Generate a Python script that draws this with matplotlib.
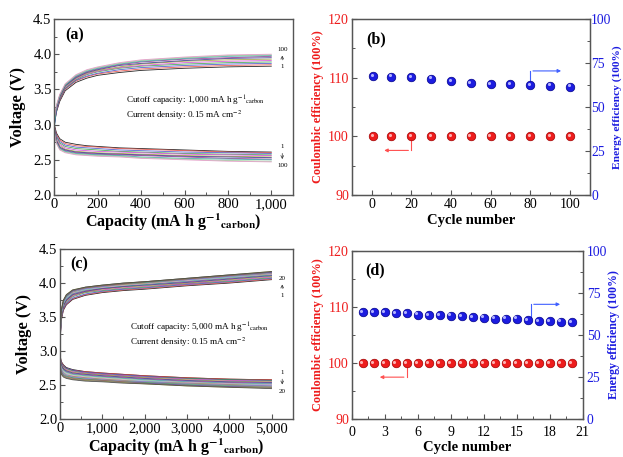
import numpy as np
import matplotlib
matplotlib.use("Agg")
import matplotlib.pyplot as plt
from matplotlib.ticker import MultipleLocator, FuncFormatter
from matplotlib import transforms

plt.rcParams['font.family'] = ['Liberation Serif', 'DejaVu Serif']
plt.rcParams['mathtext.fontset'] = 'stix'

# ---- (a) 1,000 mAh/g cutoff, cycles 1,10,...,100
cap_a = [0, 10, 25, 50, 100, 150, 200, 300, 400, 600, 800, 1000]
charge_a = [
    [3.00, 3.18, 3.33, 3.48, 3.60, 3.66, 3.70, 3.74, 3.77, 3.80, 3.82, 3.83],
    [3.02, 3.20, 3.35, 3.50, 3.62, 3.68, 3.72, 3.76, 3.79, 3.82, 3.84, 3.85],
    [2.98, 3.20, 3.36, 3.51, 3.63, 3.69, 3.73, 3.78, 3.81, 3.84, 3.86, 3.87],
    [3.05, 3.22, 3.37, 3.52, 3.64, 3.71, 3.75, 3.80, 3.83, 3.86, 3.88, 3.89],
    [3.00, 3.22, 3.38, 3.53, 3.65, 3.72, 3.76, 3.81, 3.84, 3.88, 3.90, 3.91],
    [3.10, 3.24, 3.39, 3.54, 3.66, 3.73, 3.77, 3.82, 3.86, 3.90, 3.92, 3.93],
    [3.02, 3.24, 3.40, 3.55, 3.67, 3.74, 3.78, 3.84, 3.87, 3.91, 3.94, 3.95],
    [3.08, 3.26, 3.41, 3.56, 3.68, 3.75, 3.79, 3.85, 3.89, 3.93, 3.95, 3.97],
    [2.95, 3.25, 3.41, 3.56, 3.69, 3.76, 3.80, 3.86, 3.90, 3.94, 3.97, 3.98],
    [3.05, 3.27, 3.42, 3.57, 3.70, 3.77, 3.81, 3.87, 3.91, 3.95, 3.98, 3.99],
    [3.10, 3.28, 3.43, 3.58, 3.71, 3.78, 3.82, 3.88, 3.92, 3.96, 3.99, 4.00],
]
discharge_a = [
    [3.00, 2.88, 2.80, 2.75, 2.72, 2.70, 2.69, 2.67, 2.66, 2.64, 2.62, 2.61],
    [2.98, 2.86, 2.78, 2.73, 2.70, 2.69, 2.68, 2.66, 2.65, 2.63, 2.61, 2.60],
    [2.97, 2.84, 2.76, 2.71, 2.68, 2.67, 2.66, 2.64, 2.63, 2.61, 2.60, 2.59],
    [2.96, 2.82, 2.74, 2.69, 2.66, 2.65, 2.64, 2.62, 2.61, 2.59, 2.58, 2.57],
    [2.95, 2.80, 2.72, 2.67, 2.64, 2.63, 2.62, 2.61, 2.60, 2.58, 2.57, 2.56],
    [2.94, 2.78, 2.70, 2.65, 2.62, 2.61, 2.60, 2.59, 2.58, 2.56, 2.55, 2.54],
    [2.93, 2.77, 2.68, 2.64, 2.61, 2.60, 2.59, 2.58, 2.57, 2.55, 2.54, 2.53],
    [2.92, 2.76, 2.67, 2.63, 2.60, 2.59, 2.58, 2.57, 2.56, 2.54, 2.52, 2.51],
    [2.91, 2.75, 2.66, 2.62, 2.59, 2.58, 2.57, 2.56, 2.54, 2.52, 2.51, 2.50],
    [2.90, 2.74, 2.65, 2.61, 2.58, 2.57, 2.56, 2.55, 2.53, 2.51, 2.49, 2.48],
    [2.90, 2.73, 2.64, 2.60, 2.57, 2.56, 2.55, 2.54, 2.52, 2.50, 2.48, 2.47],
]

# ---- (b) efficiencies, cycles 1..100
cycles_b = [1, 10, 20, 30, 40, 50, 60, 70, 80, 90, 100]
ce_b = [100, 100, 100, 100, 100, 100, 100, 100, 100, 100, 100]
ee_b = [67.6, 67.3, 66.9, 66.1, 64.8, 63.5, 63.1, 62.8, 62.5, 62.2, 61.6]

# ---- (c) 5,000 mAh/g cutoff, cycles 1..20
cap_c = [0, 30, 80, 150, 300, 600, 1000, 1500, 2000, 3000, 4000, 5000]
charge_c = [
    [3.10, 3.45, 3.60, 3.68, 3.76, 3.82, 3.86, 3.89, 3.91, 3.96, 4.00, 4.05],
    [3.12, 3.47, 3.61, 3.69, 3.77, 3.83, 3.87, 3.90, 3.92, 3.97, 4.01, 4.06],
    [3.11, 3.48, 3.62, 3.70, 3.78, 3.84, 3.88, 3.91, 3.93, 3.98, 4.02, 4.07],
    [3.14, 3.49, 3.64, 3.72, 3.80, 3.86, 3.89, 3.92, 3.94, 3.99, 4.03, 4.08],
    [3.13, 3.50, 3.65, 3.73, 3.81, 3.87, 3.90, 3.93, 3.95, 3.99, 4.04, 4.09],
    [3.15, 3.51, 3.66, 3.74, 3.82, 3.87, 3.91, 3.94, 3.96, 4.00, 4.05, 4.10],
    [3.16, 3.52, 3.67, 3.75, 3.83, 3.88, 3.92, 3.95, 3.97, 4.01, 4.06, 4.11],
    [3.15, 3.53, 3.68, 3.76, 3.84, 3.89, 3.92, 3.95, 3.98, 4.02, 4.07, 4.12],
    [3.17, 3.54, 3.69, 3.77, 3.85, 3.90, 3.93, 3.96, 3.98, 4.03, 4.08, 4.12],
    [3.18, 3.55, 3.70, 3.78, 3.86, 3.90, 3.94, 3.97, 3.99, 4.04, 4.08, 4.13],
    [3.17, 3.55, 3.71, 3.79, 3.86, 3.91, 3.94, 3.97, 3.99, 4.04, 4.09, 4.13],
    [3.19, 3.56, 3.71, 3.79, 3.87, 3.91, 3.95, 3.98, 4.00, 4.05, 4.09, 4.14],
    [3.18, 3.57, 3.72, 3.80, 3.87, 3.92, 3.95, 3.98, 4.00, 4.05, 4.10, 4.14],
    [3.20, 3.57, 3.72, 3.80, 3.88, 3.92, 3.95, 3.99, 4.01, 4.05, 4.10, 4.15],
    [3.19, 3.58, 3.73, 3.81, 3.88, 3.93, 3.96, 3.99, 4.01, 4.06, 4.11, 4.15],
    [3.21, 3.58, 3.73, 3.81, 3.89, 3.93, 3.96, 3.99, 4.01, 4.06, 4.11, 4.16],
    [3.20, 3.59, 3.74, 3.82, 3.89, 3.93, 3.96, 3.99, 4.02, 4.06, 4.11, 4.16],
    [3.22, 3.59, 3.74, 3.82, 3.89, 3.94, 3.97, 4.00, 4.02, 4.07, 4.12, 4.16],
    [3.21, 3.60, 3.75, 3.83, 3.90, 3.94, 3.97, 4.00, 4.02, 4.07, 4.12, 4.17],
    [3.20, 3.60, 3.75, 3.83, 3.90, 3.94, 3.97, 4.00, 4.02, 4.07, 4.12, 4.17],
]
discharge_c = [
    [2.95, 2.85, 2.80, 2.76, 2.73, 2.70, 2.68, 2.66, 2.64, 2.61, 2.59, 2.58],
    [2.93, 2.84, 2.79, 2.75, 2.72, 2.70, 2.68, 2.66, 2.64, 2.61, 2.59, 2.58],
    [2.92, 2.83, 2.78, 2.75, 2.72, 2.69, 2.67, 2.65, 2.63, 2.60, 2.58, 2.57],
    [2.90, 2.82, 2.77, 2.74, 2.71, 2.68, 2.66, 2.64, 2.62, 2.60, 2.58, 2.57],
    [2.90, 2.81, 2.76, 2.73, 2.70, 2.68, 2.66, 2.64, 2.62, 2.59, 2.57, 2.56],
    [2.88, 2.80, 2.75, 2.72, 2.69, 2.67, 2.65, 2.63, 2.61, 2.58, 2.56, 2.55],
    [2.87, 2.79, 2.74, 2.71, 2.68, 2.66, 2.64, 2.62, 2.60, 2.57, 2.55, 2.54],
    [2.86, 2.78, 2.73, 2.70, 2.67, 2.65, 2.63, 2.61, 2.59, 2.56, 2.54, 2.53],
    [2.85, 2.77, 2.72, 2.69, 2.66, 2.64, 2.62, 2.60, 2.58, 2.55, 2.53, 2.52],
    [2.84, 2.76, 2.71, 2.68, 2.65, 2.63, 2.61, 2.59, 2.57, 2.54, 2.52, 2.51],
    [2.83, 2.75, 2.70, 2.67, 2.64, 2.62, 2.60, 2.58, 2.56, 2.54, 2.52, 2.51],
    [2.82, 2.74, 2.69, 2.66, 2.63, 2.61, 2.59, 2.57, 2.56, 2.53, 2.51, 2.50],
    [2.81, 2.73, 2.68, 2.65, 2.63, 2.61, 2.59, 2.57, 2.55, 2.53, 2.51, 2.49],
    [2.80, 2.72, 2.67, 2.64, 2.62, 2.60, 2.58, 2.56, 2.55, 2.52, 2.50, 2.49],
    [2.79, 2.71, 2.66, 2.64, 2.61, 2.59, 2.58, 2.56, 2.54, 2.52, 2.50, 2.48],
    [2.78, 2.70, 2.65, 2.63, 2.61, 2.59, 2.57, 2.55, 2.54, 2.51, 2.49, 2.47],
    [2.77, 2.69, 2.64, 2.62, 2.60, 2.58, 2.57, 2.55, 2.53, 2.50, 2.48, 2.47],
    [2.77, 2.68, 2.64, 2.61, 2.59, 2.57, 2.56, 2.54, 2.53, 2.50, 2.48, 2.46],
    [2.76, 2.67, 2.63, 2.61, 2.59, 2.57, 2.56, 2.54, 2.52, 2.49, 2.47, 2.46],
    [2.75, 2.66, 2.62, 2.60, 2.58, 2.56, 2.55, 2.53, 2.52, 2.49, 2.47, 2.45],
]

# ---- (d) efficiencies, cycles 1..20
cycles_d = list(range(1, 21))
ce_d = [100] * 20
ee_d = [63.8, 63.8, 63.4, 63.2, 62.8, 62.1, 61.9, 61.7, 61.5, 61.3,
        60.5, 60.3, 59.7, 59.7, 59.7, 58.9, 58.3, 58.1, 57.9, 57.7]

line_colors = ['#000000', '#e8463c', '#3b48c8', '#2e9e3e', '#d23cd2', '#9a9a30',
               '#2a2a8a', '#8a2a8a', '#2aa0a0', '#90c890', '#e090c0', '#60c0e0',
               '#c08040', '#7070ff', '#909090', '#40a060', '#b05050', '#5050b0',
               '#a0a040', '#404040']

SPINE = '#555555'
RED = '#ee1c1c'
BLUE = '#1c1ce0'

fig = plt.figure(figsize=(6.23, 4.57), dpi=100)


def style_axes(ax):
    for sp in ax.spines.values():
        sp.set_color(SPINE)
        sp.set_linewidth(1.0)
    ax.tick_params(which='both', direction='in', color=SPINE, top=False, right=False)
    ax.tick_params(which='major', length=3.5, width=0.8)
    ax.tick_params(which='minor', length=2, width=0.7)


def comma_fmt(x, pos):
    return '{:,.0f}'.format(x)


def voltage_panel(rect, cap, charge, discharge, xmax, xmaj, label, cutoff, nlast):
    ax = fig.add_axes(rect)
    style_axes(ax)
    for i, v in enumerate(charge):
        ax.plot(cap, v, color=line_colors[i % len(line_colors)], lw=0.6, alpha=0.85)
    for i, v in enumerate(discharge):
        ax.plot(cap, v, color=line_colors[i % len(line_colors)], lw=0.6, alpha=0.85)
    ax.set_xlim(0, xmax)
    ax.set_ylim(2.0, 4.5)
    ax.xaxis.set_major_locator(MultipleLocator(xmaj))
    ax.xaxis.set_minor_locator(MultipleLocator(xmaj / 2))
    ax.xaxis.set_major_formatter(FuncFormatter(comma_fmt))
    ax.yaxis.set_major_locator(MultipleLocator(0.5))
    ax.yaxis.set_minor_locator(MultipleLocator(0.25))
    ax.yaxis.set_major_formatter(FuncFormatter(lambda y, p: '{:.1f}'.format(y)))
    ax.tick_params(labelsize=10.5, pad=2)
    ax.set_ylabel('Voltage (V)', fontsize=12, fontweight='bold', labelpad=5)
    ax.set_xlabel(r'Capacity (mA h g$^{\mathbf{-1}}$$_{\mathbf{carbon}}$)',
                  fontsize=11.5, fontweight='bold', labelpad=1)
    ax.text(0.045, 0.955, label, transform=ax.transAxes, fontsize=11.5,
            fontweight='bold', va='top')
    ax.text(0.30, 0.52, 'Cutoff capacity: ' + cutoff + r' mA h g$^{-1}$$_{\rm carbon}$',
            transform=ax.transAxes, fontsize=6.6)
    ax.text(0.30, 0.435, r'Current density: 0.15 mA cm$^{-2}$',
            transform=ax.transAxes, fontsize=6.6)
    # cycle direction markers at right end
    xa = xmax * 0.955
    ax.text(xa, 4.03, nlast, fontsize=5, ha='center', va='bottom')
    ax.annotate('', xy=(xa, 4.02), xytext=(xa, 3.88),
                arrowprops=dict(arrowstyle='->', lw=0.5, color='#333333', mutation_scale=5))
    ax.text(xa, 3.86, '1', fontsize=5, ha='center', va='top')
    ax.text(xa, 2.65, '1', fontsize=5, ha='center', va='bottom')
    ax.annotate('', xy=(xa, 2.47), xytext=(xa, 2.63),
                arrowprops=dict(arrowstyle='->', lw=0.5, color='#333333', mutation_scale=5))
    ax.text(xa, 2.45, nlast, fontsize=5, ha='center', va='top')
    return ax


def eff_panel(rect, cycles, ce, ee, xlim, xmaj, label, red_arrow, blue_arrow,
              rpad, rlabel_size, xpad):
    ax = fig.add_axes(rect)
    style_axes(ax)
    ax2 = ax.twinx()
    for sp in ax2.spines.values():
        sp.set_color(SPINE)
    ax2.tick_params(which='both', direction='in', color=SPINE)
    ax2.tick_params(which='major', length=3.5, width=0.8)
    ax2.tick_params(which='minor', length=2, width=0.7)

    ax.set_xlim(*xlim)
    ax.set_ylim(90, 120)
    ax2.set_ylim(0, 100)
    ax.xaxis.set_major_locator(MultipleLocator(xmaj))
    ax.xaxis.set_minor_locator(MultipleLocator(xmaj / 2))
    ax.yaxis.set_major_locator(MultipleLocator(10))
    ax.yaxis.set_minor_locator(MultipleLocator(5))
    ax2.yaxis.set_major_locator(MultipleLocator(25))
    ax2.yaxis.set_minor_locator(MultipleLocator(12.5))
    ax.tick_params(labelsize=10, pad=2)
    ax.tick_params(axis='x', pad=xpad)
    ax.tick_params(axis='y', labelcolor=RED)
    ax2.tick_params(labelsize=9.8, pad=rpad, labelcolor=BLUE)

    # spheres with a small highlight
    hl = transforms.offset_copy(ax.transData, fig=fig, x=-1.2, y=1.2, units='dots')
    ax.scatter(cycles, ce, s=38, color=RED, edgecolor='#a00000', linewidth=0.5, zorder=3)
    ax.scatter(cycles, ce, s=5, color='#ffb0b0', linewidth=0, zorder=4, transform=hl)
    hl2 = transforms.offset_copy(ax2.transData, fig=fig, x=-1.2, y=1.2, units='dots')
    ax2.scatter(cycles, ee, s=38, color=BLUE, edgecolor='#00008a', linewidth=0.5, zorder=3)
    ax2.scatter(cycles, ee, s=5, color='#b0b0ff', linewidth=0, zorder=4, transform=hl2)

    # direction arrows
    x0, y0, x1, y1 = red_arrow
    ax.plot([x0, x0], [y0, y1], color='#ff5050', lw=0.8)
    ax.annotate('', xy=(x1, y1), xytext=(x0, y1),
                arrowprops=dict(arrowstyle='-|>', lw=0.8, color='#ff5050', mutation_scale=5))
    x0, y0, x1, y1 = blue_arrow
    ax2.plot([x0, x0], [y0, y1], color='#4060ff', lw=0.8)
    ax2.annotate('', xy=(x1, y1), xytext=(x0, y1),
                 arrowprops=dict(arrowstyle='-|>', lw=0.8, color='#4060ff', mutation_scale=5))

    ax.set_xlabel('Cycle number', fontsize=10.5, fontweight='bold', labelpad=2)
    ax.set_ylabel('Coulombic efficiency (100%)', fontsize=8.8, fontweight='bold',
                  color=RED, labelpad=3)
    ax2.set_ylabel('Energy efficiency (100%)', fontsize=rlabel_size, fontweight='bold',
                   color=BLUE, labelpad=0.5)
    ax.text(0.06, 0.93, label, transform=ax.transAxes, fontsize=11.5,
            fontweight='bold', va='top')
    return ax


voltage_panel([0.0872, 0.5733, 0.3831, 0.3851], cap_a, charge_a, discharge_a,
              1100, 200, '(a)', '1,000', '100')
eff_panel([0.5645, 0.5733, 0.3820, 0.3851], cycles_b, ce_b, ee_b, (-10, 110), 20,
          '(b)', (20, 100, 5, 97.6), (80, 63, 97, 70.5), 1, 8.2, 2)
voltage_panel([0.0963, 0.0825, 0.3735, 0.3726], cap_c, charge_c, discharge_c,
              5500, 1000, '(c)', '5,000', '20')
eff_panel([0.5645, 0.0825, 0.3708, 0.3689], cycles_d, ce_d, ee_d, (0, 21), 3,
          '(d)', (5, 100, 2.3, 97.5), (16.3, 59, 19.2, 68.2), 3, 8.6, 4.5)

fig.savefig('out.png', dpi=100)
